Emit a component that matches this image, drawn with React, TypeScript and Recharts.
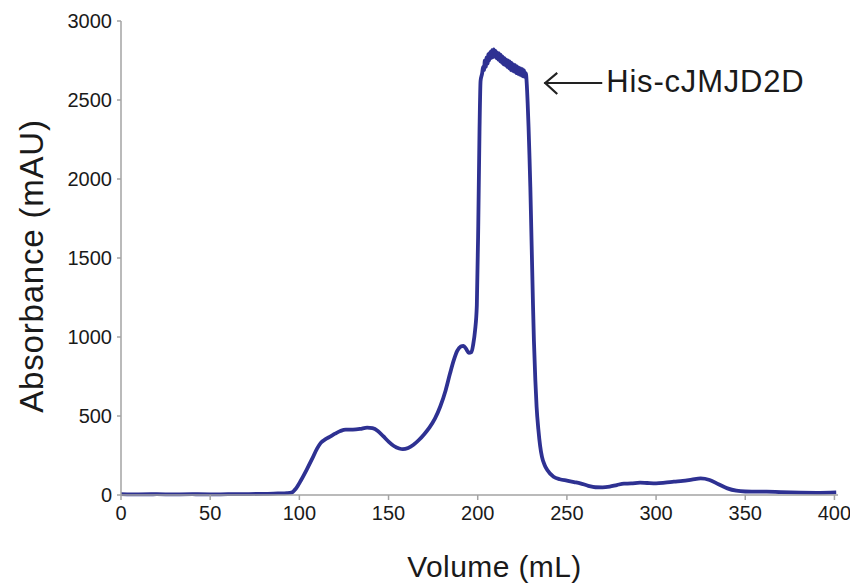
import React from "react";
import { LineChart, Line, XAxis, YAxis, ReferenceDot } from "recharts";

const volumes: number[] = [
  0, 10, 20, 30, 40, 50, 60, 70, 80, 88, 93, 95.5, 98, 101, 104, 107, 110, 112, 114.5, 117,
  120, 123, 126, 130, 134, 138, 141, 144, 147, 150, 153, 156, 158, 161, 164, 167, 170, 173,
  176, 179, 182, 184.5, 186.5, 188.5, 190.5, 192, 193.5, 195, 196.5, 197.5, 198.5, 199.5,
  200.3, 201, 201.6, 202.5, 203, 203.5, 204, 204.5, 205, 205.5, 206, 206.5, 207, 207.5, 208,
  208.5, 209, 209.5, 210, 210.5, 211, 211.5, 212, 212.5, 213, 213.5, 214, 214.5, 215, 215.5,
  216, 216.5, 217, 217.5, 218, 218.5, 219, 219.5, 220, 220.5, 221, 221.5, 222, 222.5, 223,
  223.5, 224, 224.5, 225, 225.5, 226, 226.5, 227, 227.5, 228, 228.5, 229, 229.5, 230, 230.5,
  231, 231.5, 232.3, 233, 234, 235, 236, 237.5, 239, 242.5, 246, 250, 254, 257.5, 262, 266,
  270, 274, 278, 282, 286, 291, 295, 300, 305, 310, 315, 320, 325, 330, 335, 340, 345, 350,
  362, 370, 381, 390, 401,
];

const absorbance: number[] = [
  5, 4, 5, 4, 5, 4, 5, 6, 7, 10, 12, 15, 40, 95, 158, 225, 295, 330, 352, 368,
  388, 405, 414, 414, 418, 427, 423, 405, 372, 338, 310, 294, 290, 298, 318, 348, 385, 428,
  483, 560, 662, 770, 850, 912, 940, 944, 925, 900, 905, 955, 1040, 1200,
  1700, 2300, 2620, 2670, 2710, 2690, 2750, 2710, 2770, 2730, 2790, 2750, 2805, 2765, 2815,
  2770, 2820, 2775, 2810, 2765, 2800, 2755, 2795, 2745, 2785, 2735, 2775, 2725, 2765, 2720,
  2755, 2710, 2750, 2700, 2745, 2690, 2735, 2685, 2725, 2680, 2720, 2670, 2712, 2665, 2705,
  2660, 2700, 2655, 2695, 2650, 2688, 2645, 2670, 2600, 2480, 2330, 2150, 1950, 1700, 1450,
  1200, 980, 728, 560, 415, 310, 243, 190, 158, 116, 100, 91, 82, 74, 58, 49,
  48, 53, 63, 72, 73, 78, 76, 74, 78, 84, 89, 97, 105, 95, 68, 42, 27, 22,
  21, 18, 15, 14, 17,
];

const xTicks: number[] = [0, 50, 100, 150, 200, 250, 300, 350, 400];
const yTicks: number[] = [0, 500, 1000, 1500, 2000, 2500, 3000];

const xTitle = "Volume (mL)";
const yTitle = "Absorbance (mAU)";
const peakLabel = "His-cJMJD2D";
const peakArrowVolume = 237.3;
const peakArrowAbsorbance = 2608;

const data = volumes.map((v, i) => ({ volume: v, abs: absorbance[i] }));

const FONT = "Arial, 'Liberation Sans', Helvetica, sans-serif";
const AXIS_COLOR = "#a3a3a3";
const TEXT_COLOR = "#1a1a1a";
const LINE_COLOR = "#2e3192";

const XTitle = (props: any) => {
  const vb = props.viewBox;
  return (
    <text
      x={vb.x + vb.width / 2 + 15}
      y={vb.y + 82}
      textAnchor="middle"
      fontFamily={FONT}
      fontSize={30}
      letterSpacing={0.4}
      fill={TEXT_COLOR}
    >
      {xTitle}
    </text>
  );
};

const YTitle = (props: any) => {
  const vb = props.viewBox;
  const x = vb.x + 35;
  const y = vb.y + vb.height / 2 + 8;
  return (
    <text
      x={x}
      y={y}
      transform={`rotate(-90, ${x}, ${y})`}
      textAnchor="middle"
      fontFamily={FONT}
      fontSize={33}
      letterSpacing={0.8}
      fill={TEXT_COLOR}
    >
      {yTitle}
    </text>
  );
};

const ArrowLabel = (props: any) => {
  const { cx, cy } = props;
  if (cx == null || cy == null) return null;
  return (
    <g>
      <line x1={cx} y1={cy} x2={cx + 58} y2={cy} stroke="#222" strokeWidth={2} />
      <polyline
        points={`${cx + 13},${cy - 10} ${cx + 1},${cy} ${cx + 13},${cy + 11}`}
        fill="none"
        stroke="#222"
        strokeWidth={2.2}
      />
      <text
        x={cx + 62}
        y={cy + 9}
        fontFamily={FONT}
        fontSize={31}
        letterSpacing={0.8}
        fill={TEXT_COLOR}
      >
        {peakLabel}
      </text>
    </g>
  );
};

export default function App() {
  return (
    <div style={{ width: 850, height: 580 }}>
      <LineChart
        width={850}
        height={580}
        data={data}
        margin={{ top: 13, right: 20, bottom: 0, left: 0 }}
      >
        <XAxis
          dataKey="volume"
          type="number"
          domain={[0, 402]}
          ticks={xTicks}
          height={93}
          tickSize={5}
          tickMargin={6}
          axisLine={{ stroke: AXIS_COLOR, strokeWidth: 1.5 }}
          tickLine={{ stroke: AXIS_COLOR, strokeWidth: 1.5 }}
          tick={{ fill: TEXT_COLOR, fontSize: 20, fontFamily: FONT }}
          label={<XTitle />}
        />
        <YAxis
          type="number"
          domain={[0, 3000]}
          ticks={yTicks}
          width={113}
          tickSize={4}
          tickMargin={5}
          axisLine={{ stroke: AXIS_COLOR, strokeWidth: 1.5 }}
          tickLine={{ stroke: AXIS_COLOR, strokeWidth: 1.5 }}
          tick={{ fill: TEXT_COLOR, fontSize: 20, fontFamily: FONT }}
          label={<YTitle />}
        />
        <Line
          dataKey="abs"
          type="monotone"
          stroke={LINE_COLOR}
          strokeWidth={3.8}
          dot={false}
          isAnimationActive={false}
        />
        <ReferenceDot
          x={peakArrowVolume}
          y={peakArrowAbsorbance}
          shape={<ArrowLabel />}
        />
      </LineChart>
    </div>
  );
}
